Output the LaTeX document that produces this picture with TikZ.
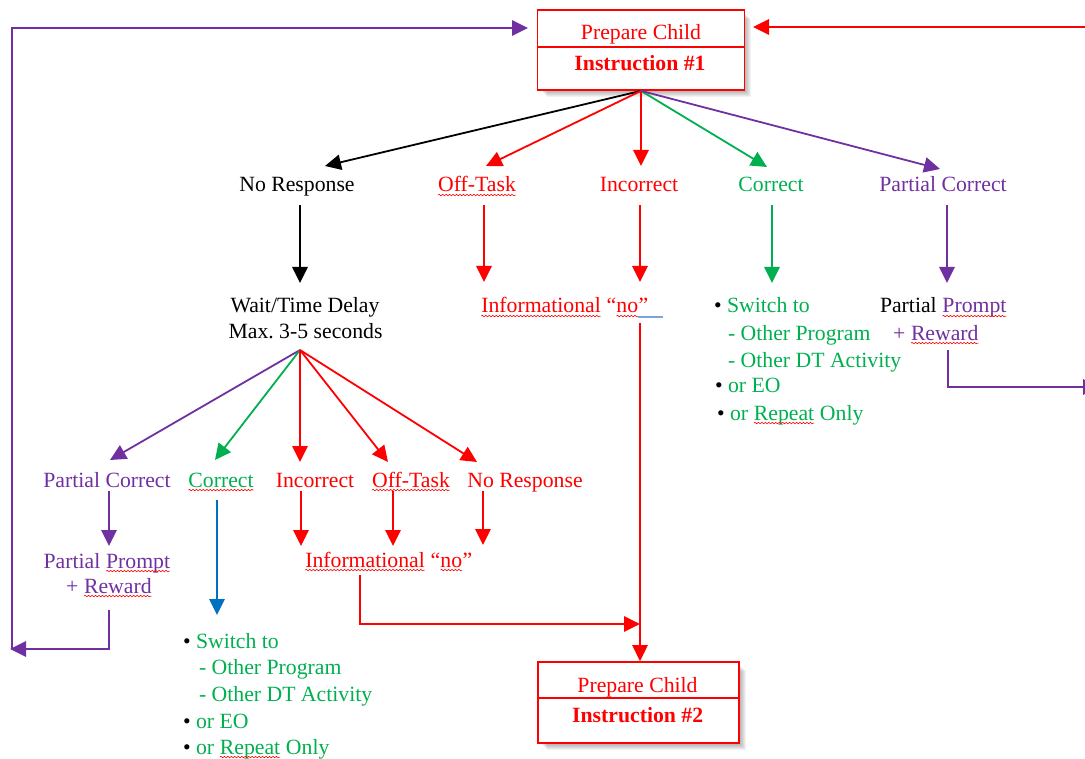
\documentclass[tikz,border=0pt]{standalone}
\usepackage{fontspec}
\setmainfont{Liberation Serif}
\usetikzlibrary{arrows.meta,decorations.pathmorphing}
\definecolor{cred}{HTML}{FF0000}
\definecolor{cgreen}{HTML}{00B050}
\definecolor{cpurple}{HTML}{7030A0}
\definecolor{cblue}{HTML}{0070C0}
\definecolor{gblue}{HTML}{7BA3E0}
\tikzset{
  wavy/.style={draw=cred, line width=0.45pt, decorate, decoration={snake, segment length=2.6pt, amplitude=0.55pt}},
}
\newcommand\sq[1]{\tikz[baseline=(sqw.base)]{\node[inner sep=0pt,outer sep=0pt,anchor=base](sqw){#1};\draw[wavy]([yshift=-2.3pt]sqw.base west)--([yshift=-2.3pt]sqw.base east);}}
\newcommand\bul{\textcolor{black}{•}}
\frenchspacing
\begin{document}
\begin{tikzpicture}[x=0.75pt,y=-0.75pt,
  lbl/.style={inner sep=0pt, outer sep=0pt, font=\fontsize{16.3}{19.5}\selectfont, anchor=base},
  lw/.style={lbl, anchor=base west},
  arr/.style={line width=1.35pt, -{Triangle[length=12pt,width=11.5pt]}},
  box/.style={draw=cred, line width=1.3pt, fill=white, inner sep=0pt},
  shade/.style={fill=black, opacity=0.05},
]
\useasboundingbox (0,0) rectangle (1085,759);

% ---------- box 1 ----------
\foreach \i in {2,3,4,5,6,7}{\fill[shade] (540+\i,12+\i) rectangle (744+\i,90+\i);}
\node[box, minimum width=155.25pt, minimum height=60pt] (b1) at (641,50) {};
\draw[cred, line width=1.3pt] (537.5,47) -- (744.5,47);
\node[lbl, cred] (b1t) at (641,40) {Prepare Child};
\node[lbl, cred, font=\fontsize{16.3}{19.5}\selectfont\bfseries] (b1b) at (640,71) {Instruction \#1};

% ---------- box 2 ----------
\foreach \i in {2,3,4,5,6,7}{\fill[shade] (540+\i,664+\i) rectangle (739+\i,743+\i);}
\node[box, minimum width=150.75pt, minimum height=60.75pt] (b2) at (638.5,702.5) {};
\draw[cred, line width=1.3pt] (538,698) -- (739,698);
\node[lbl, cred] (b2t) at (637.5,692) {Prepare Child};
\node[lbl, cred, font=\fontsize{16.3}{19.5}\selectfont\bfseries] (b2b) at (637.7,722) {Instruction \#2};

% ---------- first fan ----------
\coordinate (t1) at (325,166);
\coordinate (t2) at (486,166);
\coordinate (t3) at (641,166);
\coordinate (t4) at (767,167);
\coordinate (t5) at (940,169);
\draw[arr] (b1.south) -- (t1);
\draw[arr,cred] (b1.south) -- (t2);
\draw[arr,cred] (b1.south) -- (t3);
\draw[arr,cgreen] (b1.south) -- (t4);
\draw[arr,cpurple] (b1.south) -- (t5);

\node[lbl] (nr) at (297,192) {No Response};
\node[lbl,cred] (ot) at (477,192) {\sq{Off-Task}};
\node[lbl,cred] (inc) at (639,192) {Incorrect};
\node[lbl,cgreen] (cor) at (771,192) {Correct};
\node[lbl,cpurple] (pc) at (943,192) {Partial Correct};

% level 1 verticals
\coordinate (v1s) at (300,205); \coordinate (v1e) at (300,283);
\coordinate (v2s) at (484,205); \coordinate (v2e) at (484,282);
\coordinate (v3s) at (640,205); \coordinate (v3e) at (640,282);
\coordinate (v4s) at (772,205); \coordinate (v4e) at (772,283);
\coordinate (v5s) at (947,205); \coordinate (v5e) at (947,283);
\draw[arr] (v1s) -- (v1e);
\draw[arr,cred] (v2s) -- (v2e);
\draw[arr,cred] (v3s) -- (v3e);
\draw[arr,cgreen] (v4s) -- (v4e);
\draw[arr,cpurple] (v5s) -- (v5e);

% wait / time delay
\node[lbl] (wt1) at (305,313) {Wait/Time Delay};
\node[lbl] (wt2) at (305.5,338) {Max. 3-5 seconds};

% informational no (upper)
\node[lw,cred] (ino) at (481,313) {\sq{Informational} “\sq{no}”};
\draw[gblue, line width=1.6pt] (638,317) -- (663,317);
\coordinate (r1) at (640,323);
\draw[arr,cred] (r1) -- (r1 |- b2.north);

% correct block (right)
\node[lw,cgreen] (rg1) at (714,313) {\bul\ Switch to};
\node[lw,cgreen] (rg2) at (728,340) {- Other Program};
\node[lw,cgreen] (rg3) at (728,367) {- Other DT Activity};
\node[lw,cgreen] (rg4) at (715,392) {\bul\ or EO};
\node[lw,cgreen] (rg5) at (717,420) {\bul\ or \sq{Repeat} Only};

% partial prompt (right)
\node[lw] (pp1) at (880,313) {Partial \textcolor{cpurple}{\sq{Prompt}}};
\node[lw,cpurple] (pp2) at (893,340) {+ \sq{Reward}};
\coordinate (pr1) at (948,350);
\coordinate (pr2) at (948,387);
\coordinate (pr3) at (1099,387);
\draw[arr,cpurple] (pr1) -- (pr2) -- (pr3);

% red return arrow top right
\coordinate (rt1) at (1090,27);
\coordinate (rt2) at (753,27);
\draw[arr,cred] (rt1) -- (rt2);

% ---------- second fan ----------
\coordinate (W) at (300,350);
\coordinate (u1) at (110,460);
\coordinate (u2) at (215,460);
\coordinate (u3) at (300,462);
\coordinate (u4) at (388,462);
\coordinate (u5) at (477,462);
\draw[arr,cpurple] (W) -- (u1);
\draw[arr,cgreen] (W) -- (u2);
\draw[arr,cred] (W) -- (u3);
\draw[arr,cred] (W) -- (u4);
\draw[arr,cred] (W) -- (u5);

\node[lbl,cpurple] (pc2) at (107,487) {Partial Correct};
\node[lbl,cgreen] (cor2) at (221,487) {\sq{Correct}};
\node[lbl,cred] (inc2) at (315,487) {Incorrect};
\node[lbl,cred] (ot2) at (411,487) {\sq{Off-Task}};
\node[lbl,cred] (nr2) at (525,487) {No Response};

\coordinate (w1s) at (109,491); \coordinate (w1e) at (109,546);
\coordinate (w2s) at (217,500); \coordinate (w2e) at (217,615);
\coordinate (w3s) at (301,491); \coordinate (w3e) at (301,546);
\coordinate (w4s) at (393,491); \coordinate (w4e) at (393,546);
\coordinate (w5s) at (483,491); \coordinate (w5e) at (483,545);
\draw[arr,cpurple] (w1s) -- (w1e);
\draw[arr,cblue] (w2s) -- (w2e);
\draw[arr,cred] (w3s) -- (w3e);
\draw[arr,cred] (w4s) -- (w4e);
\draw[arr,cred] (w5s) -- (w5e);

% partial prompt (left)
\node[lbl,cpurple] (pp3) at (107,568) {Partial \sq{Prompt}};
\node[lbl,cpurple] (pp4) at (109,593) {+ \sq{Reward}};
\coordinate (lp1) at (109,610);
\coordinate (lp2) at (109,649);
\coordinate (lp3) at (10,649);
\draw[arr,cpurple] (lp1) -- (lp2) -- (lp3);
\coordinate (lq1) at (12,649);
\coordinate (lq2) at (12,28);
\coordinate (lq3) at (528,28);
\draw[arr,cpurple] (lq1) -- (lq2) -- (lq3);

% informational no (lower)
\node[lw,cred] (ino2) at (305,567) {\sq{Informational} “\sq{no}”};
\coordinate (li1) at (360,575);
\coordinate (li2) at (360,624);
\coordinate (li3) at (640,624);
\draw[arr,cred] (li1) -- (li2) -- (li3);

% correct block (left)
\node[lw,cgreen] (lg1) at (183,648) {\bul\ Switch to};
\node[lw,cgreen] (lg2) at (199,674) {- Other Program};
\node[lw,cgreen] (lg3) at (199,701) {- Other DT Activity};
\node[lw,cgreen] (lg4) at (183,728) {\bul\ or EO};
\node[lw,cgreen] (lg5) at (183,754) {\bul\ or \sq{Repeat} Only};
\end{tikzpicture}
\end{document}
